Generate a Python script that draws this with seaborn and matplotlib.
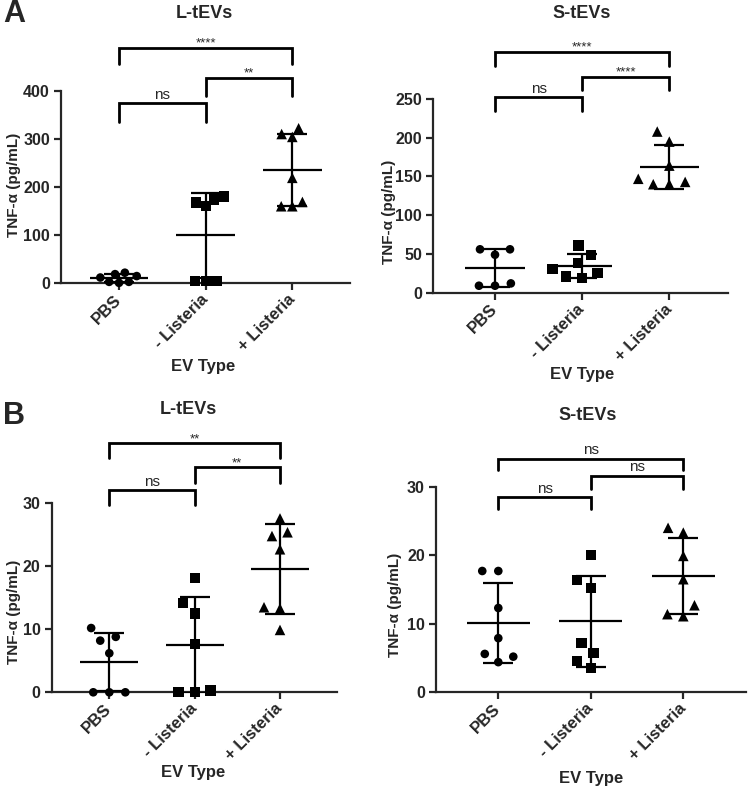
import numpy as np
import pandas as pd
import matplotlib
matplotlib.use("Agg")
import matplotlib.pyplot as plt
import seaborn as sns

# ---------------- data ----------------
categories = ["PBS", "- Listeria", "+ Listeria"]

# Panel A, L-tEVs
a_l_pbs = [22, 3, 19, 3, 15, 1, 12]
a_l_neg = [174, 160, 180, 168, 5, 5, 5]
a_l_pos = [304, 322, 310, 219, 160, 169, 160]
# Panel A, S-tEVs
a_s_pbs = [56, 56, 49, 9, 12, 9]
a_s_neg = [38, 61, 49, 19, 25, 31, 21]
a_s_pos = [140, 147, 140, 143, 208, 195, 164]
# Panel B, L-tEVs
b_l_pbs = [10.2, 8.8, 8.2, 6.2, 0, 0, 0]
b_l_neg = [18.2, 14.2, 12.5, 7.7, 0, 0.3, 0]
b_l_pos = [27.6, 24.8, 25.4, 22.7, 13.5, 13.3, 9.9]
# Panel B, S-tEVs
b_s_pbs = [17.7, 17.7, 12.3, 7.9, 5.6, 4.4, 5.2]
b_s_neg = [20.0, 16.4, 15.2, 7.2, 5.7, 4.6, 3.5]
b_s_pos = [24.0, 23.3, 19.9, 16.5, 12.7, 11.1, 11.4]

# significance comparisons
pairs = [(0, 2), (1, 2), (0, 1)]
a_l_sig = ["****", "**", "ns"]
a_s_sig = ["****", "****", "ns"]
b_l_sig = ["**", "**", "ns"]
b_s_sig = ["ns", "ns", "ns"]

a_l_yticks = [0, 100, 200, 300, 400]
a_s_yticks = [0, 50, 100, 150, 200, 250]
b_yticks = [0, 10, 20, 30]

# ---------------- style ----------------
sns.set_style("ticks")
plt.rcParams["font.family"] = ["Liberation Sans", "DejaVu Sans"]
plt.rcParams["font.weight"] = "bold"
plt.rcParams["axes.labelweight"] = "bold"

W, H = 750, 792
fig = plt.figure(figsize=(W / 100, H / 100), dpi=100)

panels = [
    dict(box=(61, 90.7, 350, 283.3), cat_px=(119, 292.3), ymax=400, yticks=a_l_yticks,
         groups=[a_l_pbs, a_l_neg, a_l_pos], sig=a_l_sig, spread=6.8,
         tops=[489, 427, 374], bots=[455, 388, 336],
         title="L-tEVs", title_xy=(204, 14), ylab_xy=(14, 185), xlab_xy=(203, 367)),
    dict(box=(433.3, 99, 728, 292.7), cat_px=(495, 669.3), ymax=250, yticks=a_s_yticks,
         groups=[a_s_pbs, a_s_neg, a_s_pos], sig=a_s_sig, spread=11,
         tops=[311, 279, 252], bots=[292, 261, 234],
         title="S-tEVs", title_xy=(582, 14), ylab_xy=(389.5, 212), xlab_xy=(582, 375)),
    dict(box=(51.7, 503.3, 337.3, 692.3), cat_px=(109.3, 280), ymax=30, yticks=b_yticks,
         groups=[b_l_pbs, b_l_neg, b_l_pos], sig=b_l_sig, spread=11,
         tops=[39.5, 35.7, 32.1], bots=[37.2, 33.3, 29.7],
         title="L-tEVs", title_xy=(188, 410), ylab_xy=(14.5, 612), xlab_xy=(193, 773)),
    dict(box=(436, 486.7, 745.7, 692.3), cat_px=(498.3, 683.3), ymax=30, yticks=b_yticks,
         groups=[b_s_pbs, b_s_neg, b_s_pos], sig=b_s_sig, spread=11,
         tops=[34.1, 31.6, 28.5], bots=[32.4, 29.7, 26.7],
         title="S-tEVs", title_xy=(588, 415), ylab_xy=(395.5, 605), xlab_xy=(591, 778)),
]

markers = ["o", "s", "^"]
msizes = [6.2, 7.4, 7.6]
LW = 1.6

for p in panels:
    x0, y0, x1, y1 = p["box"]
    ax = fig.add_axes([x0 / W, 1 - y1 / H, (x1 - x0) / W, (y1 - y0) / H])
    for i, (vals, m, ms) in enumerate(zip(p["groups"], markers, msizes)):
        df = pd.DataFrame({"group": categories[i], "value": vals})
        before = list(ax.collections)
        sns.swarmplot(data=df, x="group", y="value", order=categories, marker=m,
                      color="black", size=ms, ax=ax, zorder=3, warn_thresh=1.0)
        for coll in ax.collections:
            if coll in before:
                continue
            if len(coll.get_offsets()) == 0:
                coll.set_visible(False)
                continue
            coll.set_edgecolor("none")
            coll.set_linewidth(max(p["spread"] - ms, 0))
            coll.set_clip_on(False)
        mean = np.mean(vals)
        sd = np.std(vals, ddof=1)
        ax.errorbar(i, mean, yerr=sd, fmt="none", ecolor="black", elinewidth=LW,
                    capsize=11, capthick=LW, zorder=4)
        ax.hlines(mean, i - 0.34, i + 0.34, color="black", lw=LW, zorder=4)

    c0, c2 = p["cat_px"]
    sp = (c2 - c0) / 2
    ax.set_xlim((x0 - c0) / sp, (x1 - c0) / sp)
    ax.set_ylim(0, p["ymax"])
    ax.set_yticks(p["yticks"])
    ax.set_yticklabels([str(t) for t in p["yticks"]], fontsize=11.5, fontweight="bold")
    ax.set_xticks([0, 1, 2])
    ax.set_xticklabels(categories, rotation=45, ha="right", va="center",
                       rotation_mode="anchor", fontsize=12, fontweight="bold")
    sns.despine(ax=ax)
    for s in ["left", "bottom"]:
        ax.spines[s].set_linewidth(LW)
    ax.tick_params(axis="both", width=LW, length=5, direction="out", pad=3)
    ax.tick_params(axis="x", pad=5)

    wpx, hpx = x1 - x0, y1 - y0
    ax.set_ylabel("TNF-α (pg/mL)", fontsize=11, fontweight="bold")
    ax.yaxis.label.set_va("center")
    ax.yaxis.set_label_coords((p["ylab_xy"][0] - x0) / wpx, (y1 - p["ylab_xy"][1]) / hpx)
    ax.set_xlabel("EV Type", fontsize=12, fontweight="bold")
    ax.xaxis.label.set_va("center")
    ax.xaxis.set_label_coords((p["xlab_xy"][0] - x0) / wpx, (y1 - p["xlab_xy"][1]) / hpx)

    # significance brackets
    for (a, b), lab, top, bot in zip(pairs, p["sig"], p["tops"], p["bots"]):
        ax.plot([a, a, b, b], [bot, top, top, bot], color="black", lw=2.0,
                clip_on=False, solid_joinstyle="miter", zorder=5)
        off = 3 if "*" in lab else 6
        fs = 9.5 if "*" in lab else 11
        ax.annotate(lab, xy=((a + b) / 2, top), xytext=(0, off), textcoords="offset points",
                    ha="center", va="center", fontsize=fs, fontweight="normal",
                    annotation_clip=False)

    fig.text(p["title_xy"][0] / W, 1 - p["title_xy"][1] / H, p["title"],
             ha="center", va="center", fontsize=13, fontweight="bold")

fig.text(3 / W, 1 - 14 / H, "A", ha="left", va="center", fontsize=22, fontweight="bold")
fig.text(3 / W, 1 - 416 / H, "B", ha="left", va="center", fontsize=22, fontweight="bold")

fig.savefig("out.png", dpi=100)
